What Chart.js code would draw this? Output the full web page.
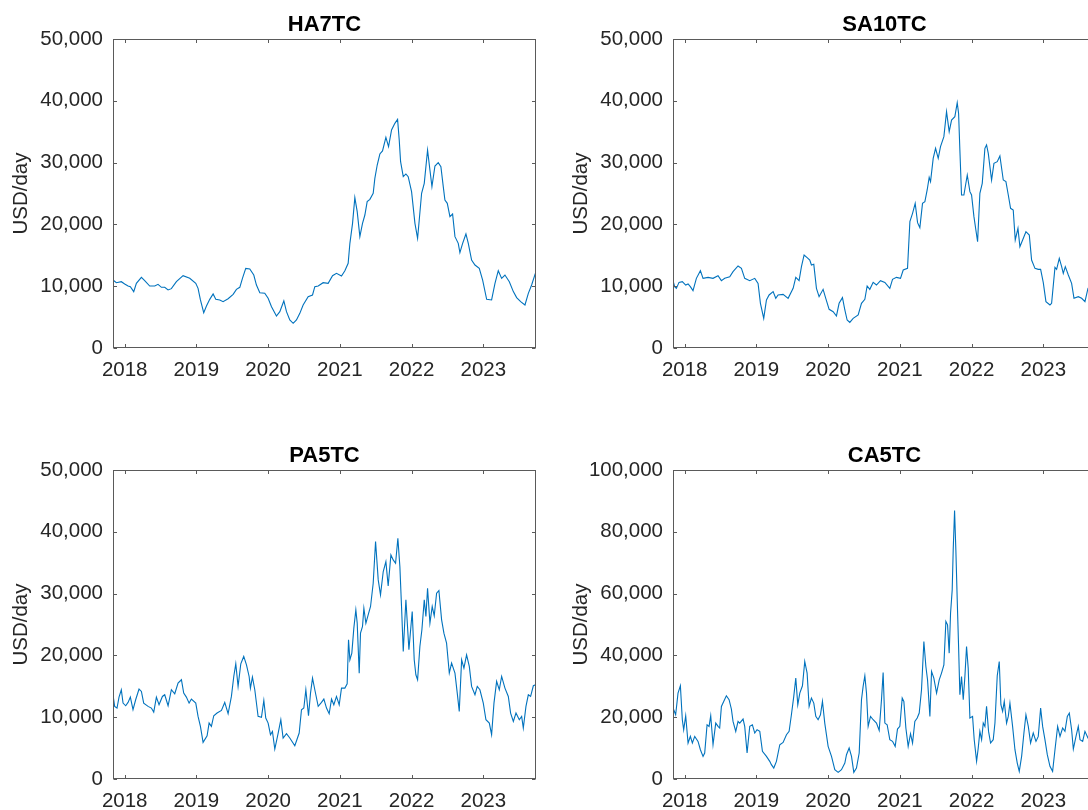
<!DOCTYPE html>
<html>
<head>
<meta charset="utf-8">
<script src="https://cdn.jsdelivr.net/npm/chart.js@4.4.1/dist/chart.umd.min.js"></script>
<style>
  html, body { margin: 0; padding: 0; background: #fff; overflow: hidden; }
  #wrap { position: relative; width: 1088px; height: 810px; overflow: hidden; background: #fff; }
  canvas { position: absolute; }
</style>
</head>
<body>
<div id="wrap">
  <canvas id="c1" width="560" height="400" style="left:0px;top:0px"></canvas>
  <canvas id="c2" width="560" height="400" style="left:560px;top:0px"></canvas>
  <canvas id="c3" width="560" height="400" style="left:0px;top:431px"></canvas>
  <canvas id="c4" width="560" height="400" style="left:560px;top:431px"></canvas>
</div>
<script>
// ---------- DATA (decimal years, USD/day) ----------
const yearTicks = [2018, 2019, 2020, 2021, 2022, 2023];
const titles = ['HA7TC', 'SA10TC', 'PA5TC', 'CA5TC'];
const yLabel = 'USD/day';

const haYears = [2017.837,2017.884,2017.953,2018.000,2018.047,2018.079,2018.126,2018.163,2018.233,2018.279,
2018.349,2018.419,2018.465,2018.512,2018.558,2018.605,2018.651,2018.721,2018.814,2018.907,
2018.991,2019.023,2019.056,2019.102,2019.140,2019.186,2019.233,2019.270,2019.326,2019.372,
2019.442,2019.512,2019.558,2019.605,2019.642,2019.688,2019.744,2019.800,2019.837,2019.884,
2019.953,2020.000,2020.047,2020.116,2020.163,2020.219,2020.256,2020.302,2020.349,2020.395,
2020.442,2020.488,2020.558,2020.619,2020.651,2020.698,2020.767,2020.837,2020.898,2020.953,
2021.023,2021.070,2021.116,2021.140,2021.177,2021.209,2021.242,2021.279,2021.316,2021.349,
2021.381,2021.419,2021.465,2021.488,2021.521,2021.558,2021.595,2021.642,2021.679,2021.721,
2021.767,2021.805,2021.828,2021.847,2021.884,2021.921,2021.953,2022.000,2022.047,2022.084,
2022.107,2022.140,2022.177,2022.223,2022.256,2022.284,2022.326,2022.372,2022.409,2022.442,
2022.465,2022.498,2022.535,2022.572,2022.605,2022.651,2022.674,2022.712,2022.758,2022.791,
2022.837,2022.884,2022.944,2022.991,2023.047,2023.116,2023.163,2023.209,2023.256,2023.302,
2023.363,2023.419,2023.465,2023.521,2023.581,2023.628,2023.674,2023.726];
const haValues = [11000,10570,10730,10360,10030,9920,9120,10460,11430,10900,
10030,10030,10300,9820,9820,9390,9600,10730,11700,11270,
10460,9650,7770,5720,6800,7870,8740,7870,7770,7500,
7980,8680,9490,9820,11270,12890,12780,11810,10190,8950,
8850,8040,6690,5180,5880,7610,5880,4530,3990,4530,
5610,6960,8310,8580,9920,10030,10570,10460,11700,12080,
11650,12510,13700,16940,20170,24330,22060,18020,20170,21520,
23680,24060,25030,27450,29610,31390,31880,34090,32580,35280,
36350,37000,33660,30150,27720,28160,27720,25290,20170,17750,
20710,25030,26650,32040,28800,26110,29450,29990,29340,26110,
23950,23410,21250,21680,18020,16940,15430,16940,18450,16940,
14240,13430,12890,11000,7870,7770,10460,12510,11270,11810,
10730,9120,8150,7500,6960,8850,10190,12080];

const saYears = [2017.828,2017.860,2017.884,2017.921,2017.967,2018.014,2018.047,2018.079,2018.116,2018.163,
2018.219,2018.256,2018.326,2018.395,2018.465,2018.512,2018.558,2018.628,2018.674,2018.744,
2018.791,2018.837,2018.907,2018.977,2019.023,2019.056,2019.102,2019.140,2019.177,2019.233,
2019.270,2019.302,2019.372,2019.442,2019.512,2019.549,2019.595,2019.628,2019.665,2019.707,
2019.744,2019.767,2019.800,2019.837,2019.874,2019.930,2019.967,2020.014,2020.070,2020.116,
2020.153,2020.200,2020.233,2020.265,2020.302,2020.349,2020.419,2020.465,2020.512,2020.544,
2020.581,2020.628,2020.674,2020.730,2020.791,2020.860,2020.898,2020.953,2021.009,2021.047,
2021.107,2021.140,2021.177,2021.214,2021.247,2021.279,2021.316,2021.349,2021.381,2021.409,
2021.428,2021.465,2021.498,2021.535,2021.567,2021.614,2021.651,2021.688,2021.721,2021.767,
2021.800,2021.819,2021.837,2021.860,2021.893,2021.940,2021.977,2022.000,2022.033,2022.060,
2022.084,2022.116,2022.149,2022.186,2022.209,2022.233,2022.279,2022.312,2022.358,2022.395,
2022.442,2022.479,2022.512,2022.544,2022.581,2022.609,2022.647,2022.674,2022.712,2022.758,
2022.805,2022.837,2022.884,2022.930,2022.963,2023.000,2023.037,2023.093,2023.116,2023.163,
2023.186,2023.223,2023.256,2023.279,2023.307,2023.349,2023.395,2023.428,2023.488,2023.535,
2023.581,2023.623,2023.674,2023.726];
const saValues = [11270,9920,9650,10620,10730,10190,10360,9920,9280,11270,
12510,11270,11430,11270,11700,10900,11270,11540,12350,13270,
12890,11270,10900,11270,10460,7230,4800,7770,8580,9120,
8040,8580,8680,8040,9650,11430,10900,13160,15050,14620,
14240,13430,13540,9650,8310,9490,8040,6260,5880,5180,
7230,8150,6150,4530,4150,4800,5340,7230,7870,10030,
9490,10620,10190,10900,10620,9650,11110,11430,11270,12620,
12890,20440,21790,23410,20280,19470,23410,23680,25570,27620,
26920,30690,32310,30690,32580,34200,38240,35010,36890,37430,
39700,37970,32040,24760,24760,27990,25300,24760,21250,19090,
17210,25030,26650,32310,32850,31500,27180,29880,30150,31070,
27180,26920,24760,22600,22330,17480,19360,16400,17480,18820,
18280,14240,12890,12730,12730,10570,7500,6960,7230,13050,
12730,14510,13160,12080,13160,11810,10460,8040,8310,8040,
7500,9650,10460,10460];

const paYears = [2017.837,2017.860,2017.893,2017.921,2017.953,2017.977,2018.014,2018.047,2018.079,2018.116,
2018.153,2018.200,2018.233,2018.265,2018.326,2018.372,2018.405,2018.442,2018.479,2018.526,
2018.558,2018.605,2018.651,2018.698,2018.744,2018.791,2018.823,2018.860,2018.898,2018.930,
2018.991,2019.023,2019.056,2019.093,2019.149,2019.177,2019.209,2019.242,2019.288,2019.349,
2019.395,2019.442,2019.488,2019.521,2019.549,2019.581,2019.619,2019.660,2019.698,2019.735,
2019.753,2019.781,2019.814,2019.860,2019.907,2019.940,2019.967,2020.000,2020.033,2020.060,
2020.093,2020.140,2020.177,2020.209,2020.256,2020.302,2020.372,2020.433,2020.465,2020.498,
2020.526,2020.563,2020.591,2020.619,2020.651,2020.698,2020.744,2020.777,2020.814,2020.851,
2020.884,2020.916,2020.953,2020.991,2021.023,2021.070,2021.102,2021.121,2021.140,2021.167,
2021.195,2021.223,2021.242,2021.270,2021.288,2021.316,2021.335,2021.363,2021.395,2021.428,
2021.465,2021.498,2021.535,2021.567,2021.605,2021.642,2021.674,2021.712,2021.744,2021.777,
2021.809,2021.837,2021.860,2021.884,2021.921,2021.963,2022.009,2022.037,2022.060,2022.084,
2022.116,2022.144,2022.177,2022.200,2022.223,2022.256,2022.288,2022.316,2022.349,2022.381,
2022.419,2022.451,2022.488,2022.526,2022.558,2022.605,2022.637,2022.665,2022.698,2022.730,
2022.767,2022.805,2022.837,2022.884,2022.916,2022.953,2023.000,2023.037,2023.084,2023.116,
2023.149,2023.186,2023.223,2023.256,2023.302,2023.349,2023.381,2023.419,2023.456,2023.502,
2023.535,2023.558,2023.595,2023.628,2023.660,2023.698,2023.730];
const paValues = [13630,11750,11480,13250,14440,12280,11850,12390,13250,11210,
12820,14550,14170,12280,11750,11480,10830,13250,12010,13360,
13630,11850,14440,13790,15520,16060,13900,13250,12280,12930,
12280,10130,8510,5930,7000,9050,8510,10240,10670,11100,
12390,10560,13360,16590,18640,14980,18640,19830,18480,16590,
14710,16490,14440,10130,9970,12720,9860,9050,7170,7700,
4850,7440,9590,6630,7330,6630,5390,7440,11210,11480,
14440,10240,13900,16330,14440,11750,12390,12930,11480,10560,
12930,12010,13360,12010,14710,14710,15410,22520,19290,20370,
24410,27370,25220,17130,23600,24680,27640,25220,26560,27910,
31680,38420,32220,29800,33570,35180,31250,36260,35450,34910,
38960,34380,27910,20640,28990,20910,27100,19290,16860,16060,
21440,24140,28990,26290,30870,25220,27910,26400,30060,30490,
25760,23600,21980,17130,18750,17130,13900,10940,19290,17940,
20100,18210,14980,13630,14980,14440,12280,9590,9050,7170,
12280,15790,14440,16590,14710,13360,10670,9320,10670,9590,
10130,8240,11750,13630,13360,15090,15250];

const caYears = [2017.828,2017.847,2017.874,2017.907,2017.940,2017.967,2017.986,2018.014,2018.047,2018.079,
2018.107,2018.140,2018.186,2018.219,2018.256,2018.279,2018.312,2018.340,2018.363,2018.395,
2018.433,2018.465,2018.488,2018.512,2018.544,2018.581,2018.619,2018.651,2018.674,2018.712,
2018.744,2018.767,2018.814,2018.837,2018.870,2018.907,2018.944,2018.977,2019.009,2019.047,
2019.084,2019.140,2019.186,2019.209,2019.242,2019.279,2019.326,2019.372,2019.419,2019.456,
2019.488,2019.521,2019.549,2019.577,2019.605,2019.642,2019.674,2019.707,2019.735,2019.767,
2019.800,2019.828,2019.860,2019.893,2019.921,2019.953,2020.000,2020.047,2020.093,2020.140,
2020.186,2020.233,2020.256,2020.293,2020.326,2020.358,2020.395,2020.433,2020.465,2020.488,
2020.512,2020.535,2020.558,2020.591,2020.628,2020.674,2020.712,2020.744,2020.767,2020.791,
2020.823,2020.860,2020.898,2020.935,2020.967,2021.000,2021.033,2021.056,2021.084,2021.116,
2021.149,2021.177,2021.209,2021.242,2021.270,2021.302,2021.335,2021.363,2021.386,2021.419,
2021.442,2021.474,2021.512,2021.549,2021.581,2021.614,2021.642,2021.665,2021.688,2021.707,
2021.730,2021.744,2021.763,2021.781,2021.800,2021.819,2021.837,2021.860,2021.884,2021.907,
2021.930,2021.953,2021.977,2022.014,2022.037,2022.070,2022.093,2022.116,2022.140,2022.163,
2022.186,2022.209,2022.237,2022.265,2022.302,2022.326,2022.358,2022.386,2022.409,2022.433,
2022.456,2022.488,2022.512,2022.535,2022.572,2022.605,2022.637,2022.665,2022.698,2022.730,
2022.758,2022.791,2022.823,2022.860,2022.898,2022.930,2022.963,2022.991,2023.023,2023.056,
2023.093,2023.130,2023.163,2023.200,2023.233,2023.270,2023.302,2023.335,2023.363,2023.395,
2023.419,2023.456,2023.488,2023.512,2023.549,2023.581,2023.623,2023.674,2023.726];
const caValues = [20260,22410,20800,27800,30170,19180,15950,20470,11640,13790,
11640,13790,12180,9480,7330,8410,17560,17030,20470,11100,
18100,17030,16490,23490,25110,26940,25650,22630,18640,15410,
18640,18100,19400,17030,8410,17030,17560,14870,15950,15410,
8940,7330,5710,4630,3560,5710,11100,11850,14330,15410,
20800,26720,32650,24030,27800,30170,38040,34270,23490,26190,
24570,20260,19180,20800,25110,18100,10560,7330,3020,2160,
3020,5170,7870,10020,7330,2160,3560,8410,25650,29960,
33410,27800,17030,20260,19180,18100,15730,25650,34480,18100,
17560,12720,12180,10560,16160,17030,26190,25110,16490,10560,
14660,11640,18640,19720,21340,28880,44500,36420,32110,20260,
34810,32650,27800,32110,34270,36960,50970,49890,40730,53660,
61210,74140,86850,74140,57970,42890,27260,33190,25650,33190,
42890,35880,19720,20260,12720,5710,10020,15410,12720,18100,
17030,23490,15410,11640,12720,18100,33410,38040,24030,21880,
25110,18100,20260,24570,17030,9480,5170,2480,7330,14870,
20800,17030,11640,14870,12180,13790,22950,17030,12720,7870,
4090,2480,9480,17030,13790,16490,15410,20260,21340,15950,
9700,13790,17030,12720,12180,15410,13250,13790,12720];

const yMaxes = [50000, 50000, 50000, 100000];
const ySteps = [10000, 10000, 10000, 20000];

// ---------- STYLE ----------
const FONT = "'Liberation Sans', Arial, Helvetica, sans-serif";
const TEXT = '#262626';
const AXIS = '#5a5a5a';
const LINE = '#0072BD';

const matlabAxes = {
  id: 'matlabAxes',
  afterDraw(chart, args, opts) {
    const { ctx, chartArea: a, scales: { x, y } } = chart;
    const L = Math.round(a.left) + 0.5, R = Math.round(a.right) - 0.5;
    const T = Math.round(a.top) + 0.5, B = Math.round(a.bottom) - 0.5;
    const tl = 3.5;
    ctx.save();
    ctx.strokeStyle = AXIS;
    ctx.lineWidth = 1;
    ctx.beginPath();
    x.ticks.forEach(t => {
      const px = Math.round(x.getPixelForValue(t.value)) + 0.5;
      ctx.moveTo(px, B); ctx.lineTo(px, B - tl);
      ctx.moveTo(px, T); ctx.lineTo(px, T + tl);
    });
    y.ticks.forEach(t => {
      const py = Math.round(y.getPixelForValue(t.value)) + 0.5;
      ctx.moveTo(L, py); ctx.lineTo(L + tl, py);
      ctx.moveTo(R, py); ctx.lineTo(R - tl, py);
    });
    ctx.stroke();
    ctx.strokeRect(L, T, R - L, B - T);
    ctx.fillStyle = '#000';
    ctx.font = 'bold 22px ' + FONT;
    ctx.textAlign = 'center';
    ctx.textBaseline = 'alphabetic';
    ctx.fillText(opts.text, (a.left + a.right) / 2, a.top - 8);
    ctx.restore();
  }
};

const seriesYears = [haYears, saYears, paYears, caYears];
const seriesValues = [haValues, saValues, paValues, caValues];

['c1', 'c2', 'c3', 'c4'].forEach((id, i) => {
  const pts = seriesYears[i].map((yr, k) => ({ x: yr, y: seriesValues[i][k] }));
  new Chart(document.getElementById(id), {
    type: 'line',
    data: {
      datasets: [{
        data: pts,
        borderColor: LINE,
        borderWidth: 1.1,
        pointRadius: 0,
        tension: 0,
        fill: false
      }]
    },
    options: {
      responsive: false,
      animation: false,
      devicePixelRatio: 1,
      layout: { padding: { left: 0, top: 39, right: 24, bottom: 0 } },
      plugins: {
        legend: { display: false },
        tooltip: { enabled: false },
        title: { display: false },
        matlabAxes: { text: titles[i] }
      },
      scales: {
        x: {
          type: 'linear',
          min: 2017.837,
          max: 2023.735,
          afterBuildTicks: s => { s.ticks = yearTicks.map(v => ({ value: v })); },
          afterFit: s => { s.height = 52; },
          grid: { display: false, drawTicks: false },
          border: { display: false },
          ticks: {
            autoSkip: false,
            maxRotation: 0,
            padding: 10,
            color: TEXT,
            font: { family: FONT, size: 20.5 },
            callback: v => String(v)
          }
        },
        y: {
          type: 'linear',
          min: 0,
          max: yMaxes[i],
          afterFit: s => { s.width = 113; },
          grid: { display: false, drawTicks: false },
          border: { display: false },
          ticks: {
            stepSize: ySteps[i],
            padding: 10,
            color: TEXT,
            font: { family: FONT, size: 20.5 },
            callback: v => Number(v).toLocaleString('en-US')
          },
          title: {
            display: true,
            text: yLabel,
            color: TEXT,
            font: { family: FONT, size: 20.5 },
            padding: { top: 9, bottom: 0 }
          }
        }
      }
    },
    plugins: [matlabAxes]
  });
});
</script>
</body>
</html>
